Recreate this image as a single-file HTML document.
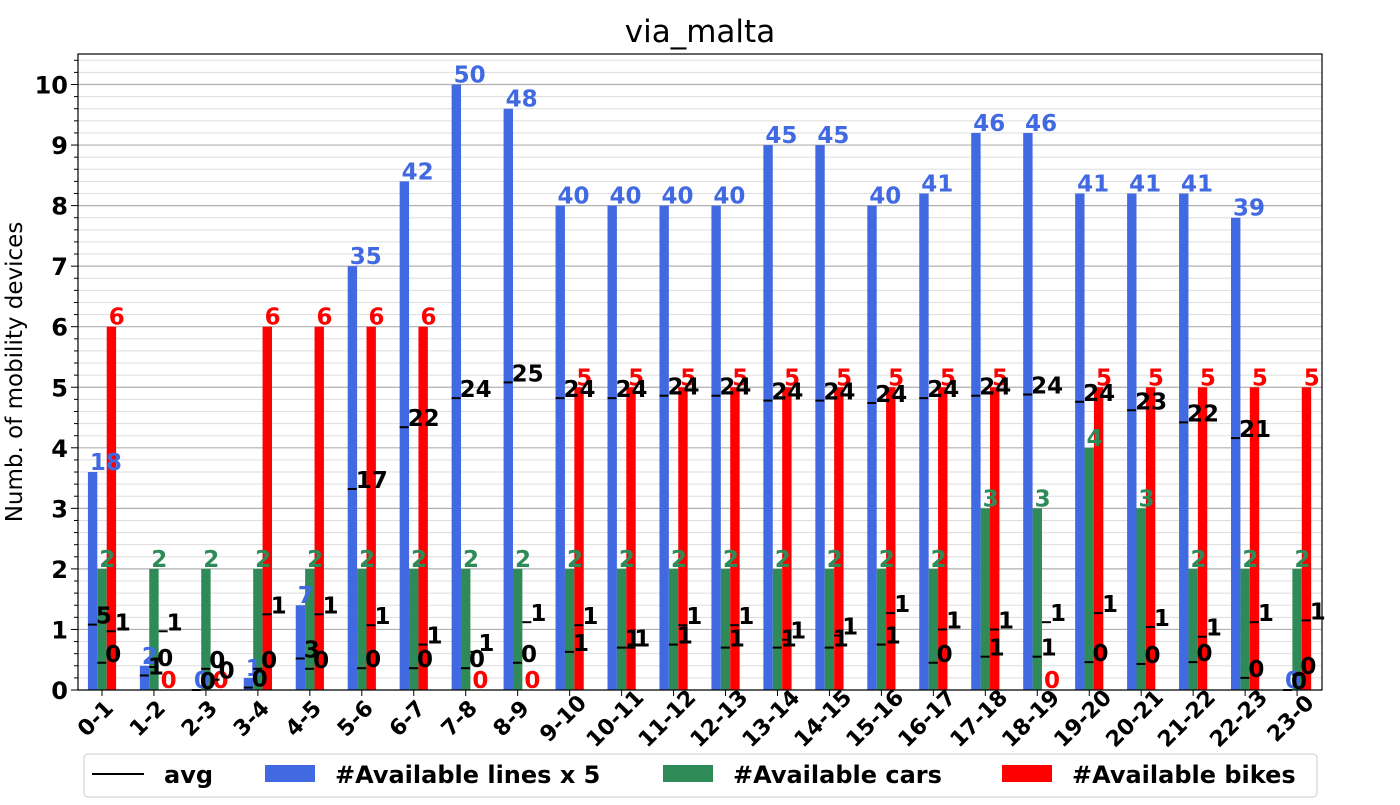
<!DOCTYPE html>
<html><head><meta charset="utf-8"><style>
body{margin:0;background:#fff;}
svg text{font-family:"DejaVu Sans","Liberation Sans",sans-serif;}
</style></head><body>
<svg id="chart" width="1400" height="800" xmlns="http://www.w3.org/2000/svg"></svg>
<script>
const categories=["0-1","1-2","2-3","3-4","4-5","5-6","6-7","7-8","8-9","9-10","10-11","11-12","12-13","13-14","14-15","15-16","16-17","17-18","18-19","19-20","20-21","21-22","22-23","23-0"];
const lines=[18,2,0,1,7,35,42,50,48,40,40,40,40,45,45,40,41,46,46,41,41,41,39,0];
const cars=[2,2,2,2,2,2,2,2,2,2,2,2,2,2,2,2,2,3,3,4,3,2,2,2];
const bikes=[6,0,0,6,6,6,6,0,0,5,5,5,5,5,5,5,5,5,0,5,5,5,5,5];
const avgLines=[5.4,1.2,0,0.2,2.6,16.6,21.7,24.1,25.4,24.1,24.1,24.3,24.3,23.9,23.9,23.7,24.1,24.3,24.4,23.8,23.1,22.1,20.8,0];
const avgCars=[0.45,0.38,0.35,0.35,0.35,0.36,0.36,0.36,0.45,0.63,0.7,0.75,0.7,0.7,0.7,0.75,0.45,0.55,0.55,0.46,0.43,0.46,0.2,0.25];
const avgBikes=[0.97,0.97,0.17,1.25,1.25,1.07,0.75,0.63,1.12,1.07,0.7,1.07,1.07,0.83,0.9,1.27,1.0,1.0,1.12,1.27,1.04,0.88,1.12,1.15];
const yTicks=[0,1,2,3,4,5,6,7,8,9,10];

const NS="http://www.w3.org/2000/svg";
const svg=document.getElementById('chart');
const L=78,R=1322,T=54,B=690;
const y=v=>B-v*60.55;
const x=i=>102+i*51.96;
function mk(t,a,txt){const e=document.createElementNS(NS,t);for(const k in a)e.setAttribute(k,a[k]);if(txt!==undefined)e.textContent=txt;svg.appendChild(e);return e;}
for(let k=0;k<=52;k++){const v=k*0.2;const yy=y(v);if(yy<T)continue;const major=k%5===0;
 const g=mk('line',{x1:L,x2:R,y1:yy,y2:yy,stroke:major?'#b0b0b0':'#dddddd','stroke-width':major?1.2:1});
 
 const t=mk('line',{x1:L-(major?7:4),x2:L,y1:yy,y2:yy,stroke:'#000','stroke-width':1});
 }
yTicks.forEach(v=>{const t=mk('text',{x:L-10,y:y(v)+9,'text-anchor':'end','font-size':24,'font-weight':'bold'},String(v));
 });
const bw=9.4;
categories.forEach((c,i)=>{const cx=x(i);
 const specs=[[lines[i]/5,'#4169e1',cx-4.7-bw,lines[i]],[cars[i],'#2e8b57',cx-4.7,cars[i]],[bikes[i],'#ff0000',cx+4.7,bikes[i]]];
 const names=['bar-lines','bar-cars','bar-bikes'];
 specs.forEach((s,j)=>{const r=mk('rect',{x:s[2],y:y(s[0]),width:bw,height:B-y(s[0]),fill:s[1]});
  });
 const tk=mk('line',{x1:cx,x2:cx,y1:B,y2:B+6,stroke:'#000'});
 const lb=mk('text',{x:0,y:0,'text-anchor':'middle','font-size':22,'font-weight':'bold',transform:`translate(${cx-7},${B+28}) rotate(-45)`,dy:8},c);
 
 const avgs=[[avgLines[i]/5,avgLines[i]],[avgCars[i],avgCars[i]],[avgBikes[i],avgBikes[i]]];
 specs.forEach((s,j)=>{const v=mk('text',{x:s[2]+2,y:y(s[0])-2,'font-size':23,'font-weight':'bold',fill:s[1]},String(s[3]));
  });
 avgs.forEach((a,j)=>{const sx=specs[j][2];
  const ln=mk('line',{x1:sx,x2:sx+9,y1:y(a[0]),y2:y(a[0]),stroke:'#000','stroke-width':2});
  
  const t=mk('text',{x:sx+8,y:y(a[0])-1,'font-size':23,'font-weight':'bold',fill:'#000'},String(Math.round(a[1])));
  });
});
const fr=mk('rect',{x:L,y:T,width:R-L,height:B-T,fill:'none',stroke:'#000','stroke-width':1.2});

const ti=mk('text',{x:700,y:42,'text-anchor':'middle','font-size':31},'via_malta');

const yl=mk('text',{x:0,y:0,'text-anchor':'middle','font-size':23,transform:'translate(22,372) rotate(-90)'},'Numb. of mobility devices');

const lg=mk('rect',{x:84,y:754,width:1233,height:43,rx:4,fill:'#fff',stroke:'#cccccc'});

const l1=mk('line',{x1:92,x2:144,y1:774,y2:774,stroke:'#000','stroke-width':2});
const t1=mk('text',{x:164,y:783,'font-size':24,'font-weight':'bold'},'avg');
const leg=[[265,'#4169e1','#Available lines x 5',335],[663,'#2e8b57','#Available cars',733],[1002,'#ff0000','#Available bikes',1072]];
leg.forEach(e=>{const r=mk('rect',{x:e[0],y:765,width:50,height:17,fill:e[1]});
 const t=mk('text',{x:e[3],y:783,'font-size':24,'font-weight':'bold'},e[2]);});
</script>
</body></html>
